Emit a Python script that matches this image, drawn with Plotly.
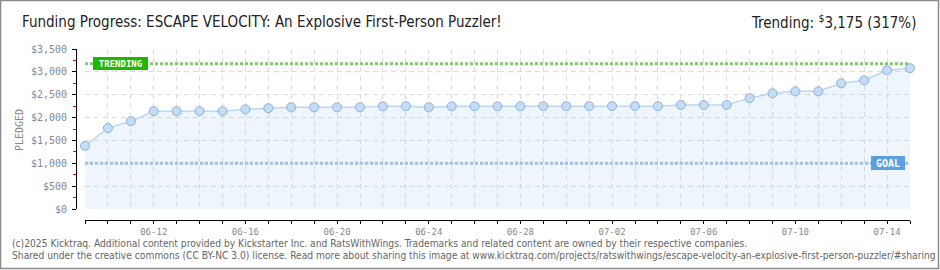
import plotly.graph_objects as go

# ---------------- data ----------------
DATES = [
    "2025-06-09", "2025-06-10", "2025-06-11", "2025-06-12", "2025-06-13", "2025-06-14",
    "2025-06-15", "2025-06-16", "2025-06-17", "2025-06-18", "2025-06-19", "2025-06-20",
    "2025-06-21", "2025-06-22", "2025-06-23", "2025-06-24", "2025-06-25", "2025-06-26",
    "2025-06-27", "2025-06-28", "2025-06-29", "2025-06-30", "2025-07-01", "2025-07-02",
    "2025-07-03", "2025-07-04", "2025-07-05", "2025-07-06", "2025-07-07", "2025-07-08",
    "2025-07-09", "2025-07-10", "2025-07-11", "2025-07-12", "2025-07-13", "2025-07-14",
    "2025-07-15",
]
PLEDGED = [
    1380, 1770, 1920, 2140, 2140, 2140,
    2140, 2180, 2205, 2225, 2225, 2225,
    2225, 2247, 2247, 2225, 2247, 2247,
    2247, 2247, 2250, 2250, 2250, 2250,
    2250, 2250, 2275, 2275, 2275, 2425,
    2530, 2575, 2575, 2750, 2815, 3035,
    3080,
]
GOAL = 1000
TRENDING = 3175
TRENDING_PCT = 317
TICK_DATES = ["2025-06-12", "2025-06-16", "2025-06-20", "2025-06-24", "2025-06-28",
              "2025-07-02", "2025-07-06", "2025-07-10", "2025-07-14"]
TICK_LABELS = ["06-12", "06-16", "06-20", "06-24", "06-28", "07-02", "07-06", "07-10", "07-14"]
Y_MAX = 3500

TITLE = "Funding Progress: ESCAPE VELOCITY: An Explosive First-Person Puzzler!"
FOOTER_1 = ("(c)2025 Kicktraq. Additional content provided by Kickstarter Inc. and RatsWithWings. "
            "Trademarks and related content are owned by their respective companies.")
FOOTER_2 = ("Shared under the creative commons (CC BY-NC 3.0) license. Read more about sharing this image at "
            "www.kicktraq.com/projects/ratswithwings/escape-velocity-an-explosive-first-person-puzzler/#sharing")

# ---------------- layout helpers ----------------
W, H = 940, 270
def px(x):
    return x / W
def py(y):
    return 1 - y / H

DAY_MS = 86400000
GRID = "#dddddd"
GRID_DASH = "5px,4px"
MONO = "DejaVu Sans Mono"
COND = "DejaVu Sans Condensed"

fig = go.Figure()
fig.add_trace(go.Scatter(
    x=DATES, y=PLEDGED, mode="lines+markers",
    fill="tozeroy", fillcolor="rgba(142,188,242,0.15)",
    line=dict(color="#b9d8f4", width=1.5),
    marker=dict(size=9, color="#c4ddf6", line=dict(color="#8eafd6", width=1)),
    cliponaxis=False, showlegend=False, hoverinfo="skip",
))

fig.update_layout(
    width=W, height=H,
    margin=dict(l=0, r=0, t=0, b=0, autoexpand=False),
    paper_bgcolor="white", plot_bgcolor="white",
    xaxis=dict(
        type="date", domain=[px(85), px(910)], anchor="free", position=py(220),
        range=[DATES[0], DATES[-1]], automargin=False,
        tickvals=TICK_DATES, ticktext=TICK_LABELS,
        ticks="outside", ticklen=3, tickcolor="black", tickwidth=1,
        showline=True, linecolor="black", linewidth=1,
        showgrid=True, gridcolor=GRID, griddash=GRID_DASH, gridwidth=1,
        tickfont=dict(family=MONO, size=9, color="#888"),
        minor=dict(dtick=DAY_MS, tick0=DATES[0], ticks="outside", ticklen=3,
                   tickcolor="black", showgrid=True, gridcolor=GRID, griddash=GRID_DASH),
        zeroline=False, fixedrange=True,
    ),
    xaxis2=dict(
        type="date", domain=[px(85), px(910)], anchor="free", position=py(220),
        overlaying="x", range=[DATES[0], DATES[-1]], automargin=False,
        dtick=DAY_MS, tick0=DATES[0], ticks="inside", ticklen=3, tickcolor="black",
        showticklabels=False, showgrid=False, showline=False, zeroline=False,
    ),
    yaxis=dict(
        domain=[py(209), py(49)], anchor="free", position=px(76),
        range=[0, Y_MAX], dtick=500, tickprefix="$", tickformat=",", automargin=False,
        ticks="outside", ticklen=4, tickcolor="black",
        showline=True, linecolor="black", linewidth=1,
        showgrid=True, gridcolor=GRID, griddash=GRID_DASH,
        tickfont=dict(family=MONO, size=10, color="#888"),
        ticklabelstandoff=3,
        minor=dict(dtick=250, ticks="outside", ticklen=3, tickcolor="red", showgrid=False),
        zeroline=False,
    ),
)

# reference lines
fig.add_shape(type="line", xref="x domain", yref="y", x0=0, x1=1, y0=TRENDING, y1=TRENDING,
              line=dict(color="#7fcc70", width=3, dash="3px,2px"))
fig.add_shape(type="line", xref="x domain", yref="y", x0=0, x1=1, y0=GOAL, y1=GOAL,
              line=dict(color="#9fc1e6", width=3, dash="3px,2px"))

# frame
fig.add_shape(type="rect", xref="paper", yref="paper", x0=px(0.5), x1=px(938.5), y0=py(268.5), y1=py(0.5),
              line=dict(color="#8a8a8a", width=1.5), fillcolor="rgba(0,0,0,0)")

# labels on lines
fig.add_annotation(xref="x domain", yref="y", x=(93 - 85) / 825, y=TRENDING, xanchor="left", yanchor="middle",
                   text="<b>TRENDING</b>", showarrow=False, font=dict(family=MONO, size=9, color="white"),
                   bgcolor="#1fb800", bordercolor="#1fb800", borderwidth=1, borderpad=1, width=51, height=9)
fig.add_annotation(xref="x domain", yref="y", x=(871 - 85) / 825, y=GOAL, xanchor="left", yanchor="middle",
                   text="<b>GOAL</b>", showarrow=False, font=dict(family=MONO, size=10, color="white"),
                   bgcolor="#5b9fe0", bordercolor="#5b9fe0", borderwidth=1, borderpad=1, width=30, height=10)

# titles
fig.add_annotation(xref="paper", yref="paper", x=px(20), y=py(22), xanchor="left", yanchor="middle",
                   text=TITLE, showarrow=False,
                   font=dict(family=COND, size=15, color="#222"))
fig.add_annotation(xref="paper", yref="paper", x=px(918), y=py(22), xanchor="right", yanchor="middle",
                   text=f"Trending: <sup>$</sup>{TRENDING:,} ({TRENDING_PCT}%)", showarrow=False,
                   font=dict(family=COND, size=15, color="#222"))
fig.add_annotation(xref="paper", yref="paper", x=px(20), y=py(130), xanchor="center", yanchor="middle",
                   text="PLEDGED", textangle=-90, showarrow=False,
                   font=dict(family=MONO, size=10, color="#888"))

# footer
fig.add_annotation(xref="paper", yref="paper", x=px(10), y=py(243), xanchor="left", yanchor="middle",
                   text=FOOTER_1, showarrow=False,
                   font=dict(family=COND, size=10.2, color="#666"))
fig.add_annotation(xref="paper", yref="paper", x=px(10), y=py(255), xanchor="left", yanchor="middle",
                   text=FOOTER_2, showarrow=False,
                   font=dict(family=COND, size=10.2, color="#666"))

fig.write_html("out.html")
